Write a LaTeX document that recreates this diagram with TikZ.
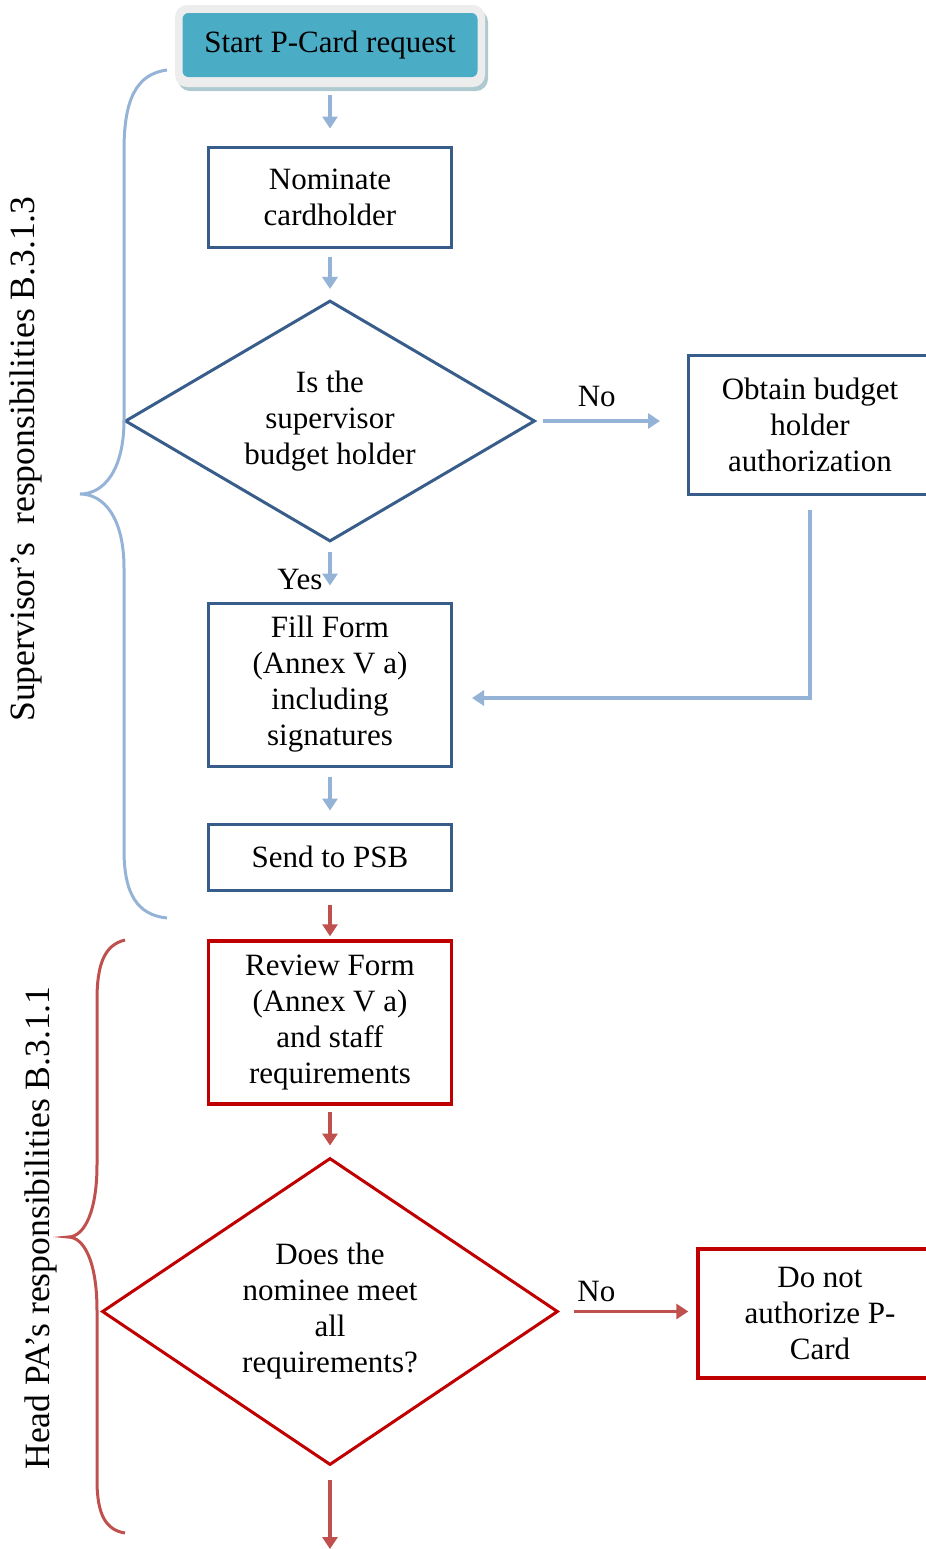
\documentclass[tikz,border=0pt]{standalone}
\usepackage{fontspec}
\setmainfont{Liberation Serif}
\usetikzlibrary{shapes.geometric,arrows.meta}

\definecolor{cardteal}{HTML}{4BACC6}
\definecolor{supblue}{HTML}{385D8A}
\definecolor{supline}{HTML}{95B3D7}
\definecolor{headred}{HTML}{C00000}
\definecolor{headline}{HTML}{C0504D}

\begin{document}
\begin{tikzpicture}[x=0.5pt,y=-0.5pt]
        \tikzstyle{every node}=[font=\fontsize{15.5}{18}\selectfont, align=center, inner sep=0pt]
        \tikzstyle{box}=[draw, line width=1.5pt, minimum width=121.5pt]
        \tikzstyle{bluebox}=[box, draw=supblue]
        \tikzstyle{redbox}=[box, draw=headred, line width=1.7pt]
        \tikzstyle{decision}=[diamond, draw, line width=1.5pt]
        \tikzstyle{arrow}=[line width=1.6pt, -{Triangle[length=6pt,width=7.5pt]}]
        \tikzstyle{bluearrow}=[arrow, draw=supline]
        \tikzstyle{redarrow}=[arrow, draw=headline]
        \tikzstyle{brace}=[line width=1.5pt]
        \tikzstyle{side}=[rotate=90, font=\fontsize{17.8}{20}\selectfont]
        \useasboundingbox (0,0) rectangle (926,1549);

        % start frame
        \fill[black!30!cardteal!40, rounded corners=6pt] (178,10) rectangle (488,91);
        \fill[black!7, rounded corners=6pt] (175,5) rectangle (485,87);
        \node[fill=cardteal, rounded corners=3pt, minimum width=147.5pt, minimum height=32pt] (start) at (330,45) {Start P-Card request};

        \node[bluebox, minimum height=50pt] (nominate) at (330,197) {Nominate\\cardholder};
        \node[decision, draw=supblue, shape aspect=1.7, minimum width=205pt, minimum height=120.5pt] (budget) at (330,421) {Is the\\supervisor\\budget holder};
        \node[bluebox, minimum height=69.5pt] (obtain) at (810,424.5) {Obtain budget\\holder\\authorization};
        \node[bluebox, minimum height=81.5pt] (fill) at (330,684.5) {Fill Form\\(Annex V a)\\including\\signatures};
        \node[bluebox, minimum height=33pt] (send) at (330,857) {Send to PSB};
        \node[redbox, minimum height=81.5pt] (review) at (330,1022.5) {Review Form\\(Annex V a)\\and staff\\requirements};
        \node[decision, draw=headred, shape aspect=1.49, minimum width=228pt, minimum height=153.5pt] (meet) at (330,1311.5) {Does the\\nominee meet\\all\\requirements?};
        \node[redbox, minimum width=122pt, minimum height=64.5pt] (refuse) at (820,1313.5) {Do not\\authorize P-\\Card};
        \coordinate (next) at (330,1549);

        % supervisor part
        \draw[bluearrow, shorten <=9pt, shorten >=8.5pt] (start) -- (nominate);
        \draw[bluearrow, shorten <=4pt, shorten >=5pt] (nominate) -- (budget);
        \draw[bluearrow, shorten <=3pt, shorten >=13.5pt] (budget.east) -- (budget.east -| obtain.west) node[pos=0.4, above=6.4pt] {No};
        \draw[bluearrow, shorten <=4.5pt, shorten >=8pt] (budget) -- (fill) node[pos=0.62, left=3pt] {Yes};
        \draw[bluearrow, shorten <=7pt, shorten >=9.5pt] (obtain.south) |- ([yshift=-6.75pt]fill.east);
        \draw[bluearrow, shorten <=4.5pt, shorten >=6pt] (fill) -- (send);

        % head PA part
        \draw[redarrow, shorten <=6.5pt, shorten >=1.5pt] (send) -- (review);
        \draw[redarrow, shorten <=3pt, shorten >=5.5pt] (review) -- (meet);
        \draw[redarrow, shorten <=7pt, shorten >=4pt] (meet.east) -- (meet.east -| refuse.west) node[pos=0.27, above=4pt] {No};
        \draw[redarrow, shorten <=6.5pt] (meet) -- (next);

        % braces
        \draw[brace, draw=supline] (167,70) .. controls (136,74) and (124,100) .. (124,150) -- (124,420)
            .. controls (124,470) and (104,494) .. (80,494) .. controls (104,494) and (124,518) .. (124,568)
            -- (124,850) .. controls (124,895) and (138,915) .. (167,918);
        \draw[brace, draw=headline] (125,940) .. controls (104,945) and (97,965) .. (97,1000) -- (97,1165)
            .. controls (97,1210) and (85,1237) .. (68,1237) .. controls (85,1237) and (97,1264) .. (97,1310)
            -- (97,1480) .. controls (97,1515) and (106,1530) .. (125,1533);
        \node[side] (suplabel) at (26,459) {Supervisor’s\ \ responsibilities B.3.1.3};
        \node[side] (headlabel) at (41,1228) {Head PA’s responsibilities B.3.1.1};
\end{tikzpicture}
\end{document}
